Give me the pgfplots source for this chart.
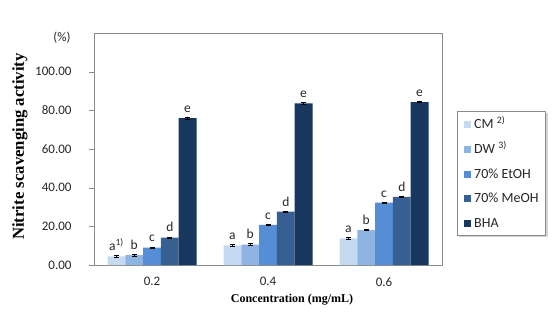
\documentclass[border=0pt]{standalone}
\usepackage{fontspec}
\setmainfont{Liberation Serif}
\newfontfamily\calib{Carlito}
\usepackage{pgfplots}
\pgfplotsset{compat=1.18}
\usepackage{pgfplotstable}
\usetikzlibrary{shadows}

\definecolor{cCM}{HTML}{C5D9F1}
\definecolor{cDW}{HTML}{8DB4E2}
\definecolor{cEt}{HTML}{558ED5}
\definecolor{cMe}{HTML}{376092}
\definecolor{cBHA}{HTML}{17375E}
\definecolor{frame}{HTML}{8C8C8C}
\definecolor{txt}{HTML}{262626}

% x: concentration index (0 = 0.2, 1 = 0.4, 2 = 0.6), y: mean, e: error, l: letter
\pgfplotstableread{
x y e l
0 4.5 0.3 {a\textsuperscript{1)}}
1 10.2 0.3 a
2 13.8 0.3 a
}\tCM
\pgfplotstableread{
x y e l
0 5.1 0.4 b
1 10.6 0.4 b
2 18.0 0.3 b
}\tDW
\pgfplotstableread{
x y e l
0 9.0 0.3 c
1 20.8 0.5 c
2 32.2 0.3 c
}\tEt
\pgfplotstableread{
x y e l
0 14.2 0.3 d
1 27.6 0.3 d
2 35.2 0.3 d
}\tMe
\pgfplotstableread{
x y e l
0 76.0 0.6 e
1 83.6 0.3 e
2 84.2 0.3 e
}\tBHA

\newcommand\sq[1]{\raisebox{0.6pt}{\textcolor{#1}{\rule{7pt}{7pt}}}}

\begin{document}
\begin{tikzpicture}[x=1pt,y=1pt]
\path[use as bounding box] (0,0) rectangle (556,313);
\begin{axis}[
  at={(94pt,48pt)}, anchor=south west,
  scale only axis, width=348pt, height=232pt,
  ybar=0pt, bar width=17.8pt,
  xmin=-0.5, xmax=2.5, ymin=0, ymax=120,
  axis line style={frame},
  xtick={0,1,2}, xticklabels={0.2,0.4,0.6},
  major x tick style={draw=none},
  extra x ticks={0.5,1.5}, extra x tick labels={},
  extra x tick style={major tick length=5pt, tick style={frame, draw=frame}, tick pos=bottom, tick align=outside},
  ytick={0,20,...,100},
  y tick style={frame},
  tick align=outside, major tick length=5pt,
  xtick pos=bottom, ytick pos=left,
  /pgf/number format/assume math mode=true,
  yticklabel style={/pgf/number format/fixed, /pgf/number format/fixed zerofill, /pgf/number format/precision=2, font=\calib\fontsize{13}{15}\selectfont, text=txt, xshift=-14pt},
  xticklabel style={font=\calib\fontsize{13}{15}\selectfont, text=txt, yshift=-4pt},
  point meta=explicit symbolic,
  nodes near coords,
  every node near coord/.append style={font=\calib\fontsize{13.5}{15}\selectfont, text=txt, anchor=south, yshift=2pt},
  error bars/y dir=both, error bars/y explicit,
  error bars/error bar style={black, line width=0.6pt},
  error bars/error mark options={rotate=90, mark size=2.5pt, black, line width=0.6pt},
]
\addplot[fill=cCM, draw=none] table[x=x, y=y, y error=e, meta=l] {\tCM};
\addplot[fill=cDW, draw=none] table[x=x, y=y, y error=e, meta=l] {\tDW};
\addplot[fill=cEt, draw=none] table[x=x, y=y, y error=e, meta=l] {\tEt};
\addplot[fill=cMe, draw=none] table[x=x, y=y, y error=e, meta=l] {\tMe};
\addplot[fill=cBHA, draw=none] table[x=x, y=y, y error=e, meta=l] {\tBHA};
\end{axis}
% legend box
\node[anchor=north west, draw=frame, fill=white, inner sep=0pt,
      drop shadow={shadow xshift=2pt, shadow yshift=-2pt, opacity=0.35},
      font=\calib\fontsize{14}{16}\selectfont, text=txt] at (457,202) {%
  \renewcommand\arraystretch{1.55}%
  \begin{tabular}{@{\hspace{7pt}}c@{\hspace{3pt}}l@{\hspace{7pt}}}
  \sq{cCM} & CM \textsuperscript{2)}\\
  \sq{cDW} & DW \textsuperscript{3)}\\
  \sq{cEt} & 70\% EtOH\\
  \sq{cMe} & 70\% MeOH\\
  \sq{cBHA} & BHA
  \end{tabular}};
\node[font=\calib\fontsize{13}{15}\selectfont, text=txt] at (62,275) {(\%)};
\node[rotate=90, font=\bfseries\fontsize{16.7}{18}\selectfont] at (20,166.5) {Nitrite scavenging activity};
\node[font=\bfseries\fontsize{12}{14}\selectfont] at (292,13) {Concentration (mg/mL)};
\end{tikzpicture}
\end{document}
